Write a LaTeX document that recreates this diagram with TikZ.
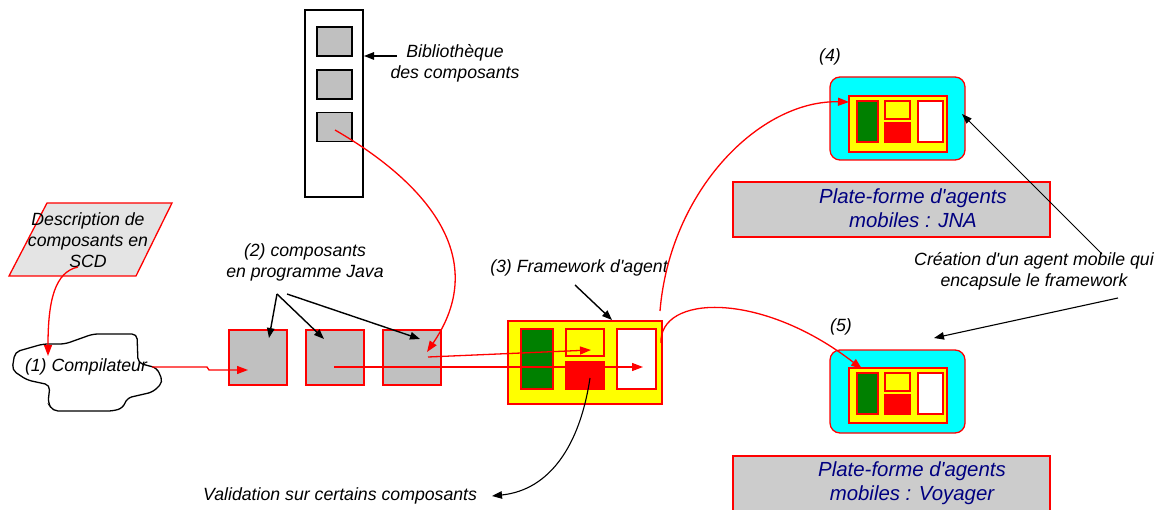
\documentclass[tikz,border=0pt]{standalone}
\usepackage{fontspec}
\setmainfont{Liberation Sans}[Ligatures=TeXOff]
\usetikzlibrary{arrows.meta}
\definecolor{navy}{RGB}{0,0,128}
\definecolor{grayA}{RGB}{192,192,192}
\definecolor{grayB}{RGB}{204,204,204}
\definecolor{grayC}{RGB}{228,228,228}
\definecolor{dgreen}{RGB}{0,128,0}
\definecolor{aqua}{RGB}{0,255,255}
\definecolor{pureyellow}{RGB}{255,255,0}
\definecolor{purered}{RGB}{255,0,0}
\tikzset{
  lbl/.style={font=\fontsize{17.7}{21}\selectfont\itshape, align=center, inner sep=0pt},
  pftext/.style={font=\fontsize{20.4}{23.5}\selectfont\itshape, text=navy, align=center, inner sep=0pt},
  rbox/.style={draw=purered, line width=1.3pt, inner sep=0pt},
  bbox/.style={draw=black, line width=1.4pt, inner sep=0pt},
  redarrow/.style={draw=purered, line width=1.3pt, -{Triangle[length=11pt,width=8pt]}, fill=none},
  blkarrow/.style={draw=black, line width=1.4pt, -{Triangle[length=10pt,width=7.5pt]}},
  thinarrow/.style={draw=black, line width=0.8pt, -{Triangle[length=10pt,width=7pt]}},
}
\begin{document}
\begin{tikzpicture}[x=1pt,y=-1pt]
\useasboundingbox (0,0) rectangle (1161,510);

% Library
\node[bbox, fill=white, minimum width=58pt, minimum height=187pt] (lib) at (334,103.5) {};
\node[bbox, fill=grayA, minimum width=35pt, minimum height=29pt] (lib1) at (334.5,41.5) {};
\node[bbox, fill=grayA, minimum width=35pt, minimum height=29pt] (lib2) at (334.5,84.5) {};
\node[bbox, fill=grayA, minimum width=35pt, minimum height=29pt] (lib3) at (334.5,127) {};
\node[lbl] (libtxt) at (455,63) {Bibliothèque\\des composants};
\coordinate (libtail) at (397,56);
\coordinate (libtip) at (364,56);
\draw[blkarrow] (libtail) -- (libtip);

% Description parallelogram
\coordinate (pa) at (47,203);
\coordinate (pb) at (172,203);
\coordinate (pc) at (136,276);
\coordinate (pd) at (9,276);
\draw[draw=purered, line width=1.3pt, fill=grayC] (pa) -- (pb) -- (pc) -- (pd) -- cycle;
\node[lbl] (desc) at (88,240) {Description de\\composants en\\SCD};

% Cloud
\draw[line width=1.3pt, rounded corners=5pt, fill=white]
 (15,352) -- (43,344) -- (65,344) -- (93,334) -- (137,334) -- (138,363) -- (157,368)
 -- (163,382) -- (153,392) -- (127,398) -- (123,408) -- (113,411) -- (53,411)
 -- (48,403) -- (50,385) -- (27,380) -- (12,370) -- cycle;
\node[lbl] (comp) at (86,367) {(1) Compilateur};

% description -> compiler
\coordinate (d1) at (78,267);
\coordinate (c1) at (48,356);
\draw[redarrow] (d1) .. controls (55,272) and (48,300) .. (c1);

% component boxes
\node[rbox, fill=grayA, minimum width=58pt, minimum height=55pt] (b1) at (258,357.5) {};
\node[rbox, fill=grayA, minimum width=58pt, minimum height=55pt] (b2) at (335,357.5) {};
\node[rbox, fill=grayA, minimum width=58pt, minimum height=55pt] (b3) at (412,357.5) {};
\node[lbl] (javatxt) at (305,262) {(2) composants\\en programme Java};
\coordinate (j1) at (277,294);
\coordinate (j2) at (287,294);
\coordinate (t1) at (269,338);
\coordinate (t2) at (324,339);
\coordinate (t3) at (420,339);
\draw[blkarrow] (j1) -- (t1);
\draw[blkarrow] (j1) -- (t2);
\draw[blkarrow] (j2) -- (t3);

% compiler -> box1
\coordinate (cc) at (152,367);
\coordinate (b1in) at (248,370);
\draw[redarrow] (cc) -- (207,367) -- (209,370) -- (b1in);

% library -> box3
\coordinate (l3c) at (335,130);
\coordinate (b3in) at (427,352);
\draw[redarrow] (l3c) .. controls (430,185) and (490,260) .. (b3in);

% Framework
\node[rbox, fill=pureyellow, minimum width=154pt, minimum height=83pt] (fw) at (585,362.5) {};
\node[rbox, fill=dgreen, minimum width=32pt, minimum height=60pt] (fwg) at (537,359) {};
\node[rbox, fill=pureyellow, minimum width=38pt, minimum height=27pt] (fwy) at (585,342.5) {};
\node[rbox, fill=purered, minimum width=38pt, minimum height=27pt] (fwr) at (585,375.5) {};
\node[rbox, fill=white, minimum width=39pt, minimum height=60pt] (fww) at (636.5,359) {};
\node[lbl] (fwtxt) at (579,268) {(3) Framework d'agent};
\coordinate (fa) at (575,285);
\coordinate (fb) at (612,320);
\draw[blkarrow] (fa) -- (fb);

% box -> framework
\coordinate (b2c) at (334,367);
\coordinate (fwwin) at (643,367);
\coordinate (b3c) at (428,357);
\coordinate (fwyin) at (591,350);
\draw[redarrow] (b3c) -- (fwyin);
\draw[redarrow] (b2c) -- (fwwin);

% validation
\node[lbl, anchor=west] (valtxt) at (203,496) {Validation sur certains composants};
\coordinate (vs) at (590,378);
\coordinate (ve) at (492,496);
\draw[blkarrow, line width=1.1pt] (vs) .. controls (580,445) and (550,490) .. (ve);

% JNA agent
\node[draw=purered, line width=1.3pt, fill=aqua, rounded corners=10pt, minimum width=135pt, minimum height=83pt, inner sep=0pt] (jna) at (897.5,118.5) {};
\node[rbox, fill=pureyellow, minimum width=98pt, minimum height=56pt] (jnay) at (898,124) {};
\node[rbox, fill=dgreen, minimum width=21pt, minimum height=41pt] (jnag) at (867.5,121.5) {};
\node[rbox, fill=pureyellow, minimum width=25pt, minimum height=18pt] (jnays) at (897.5,110) {};
\node[rbox, fill=purered, minimum width=25pt, minimum height=19pt] (jnar) at (897.5,132.5) {};
\node[rbox, fill=white, minimum width=25pt, minimum height=41pt] (jnaw) at (930.5,121.5) {};
\node[lbl] (n4) at (830,57) {(4)};

% Voyager agent
\node[draw=purered, line width=1.3pt, fill=aqua, rounded corners=10pt, minimum width=135pt, minimum height=83pt, inner sep=0pt] (voy) at (897.5,391.5) {};
\node[rbox, fill=pureyellow, minimum width=98pt, minimum height=55pt] (voyy) at (898,395.5) {};
\node[rbox, fill=dgreen, minimum width=21pt, minimum height=41pt] (voyg) at (867.5,393.5) {};
\node[rbox, fill=pureyellow, minimum width=25pt, minimum height=18pt] (voyys) at (897.5,382) {};
\node[rbox, fill=purered, minimum width=25pt, minimum height=19pt] (voyr) at (897.5,404.5) {};
\node[rbox, fill=white, minimum width=25pt, minimum height=41pt] (voyw) at (930.5,393.5) {};
\node[lbl] (n5) at (841,327) {(5)};

% framework -> agents
\coordinate (fj) at (660,311);
\coordinate (jin) at (849,102);
\draw[redarrow] (fj) .. controls (670,190) and (760,100) .. (jin);
\coordinate (fv) at (661,343);
\coordinate (vin) at (862,369);
\draw[redarrow] (fv) .. controls (659,295) and (760,290) .. (vin);

% platform boxes
\node[rbox, fill=grayB, minimum width=317pt, minimum height=55pt] (pfj) at (891.5,209.5) {};
\node[pftext] (pfjtxt) at (913,208) {Plate-forme d'agents\\mobiles : JNA};
\node[rbox, fill=grayB, minimum width=317pt, minimum height=80pt] (pfv) at (891.5,496) {};
\node[pftext] (pfvtxt) at (912,483) {Plate-forme d'agents\\mobiles : Voyager};

% creation
\node[lbl] (cretxt) at (1034,271) {Création d'un agent mobile qui\\encapsule le framework};
\coordinate (cr1) at (1102,254);
\coordinate (cr2) at (1118,298);
\coordinate (jt) at (962,114);
\coordinate (vt) at (934,338);
\draw[thinarrow] (cr1) -- (jt);
\draw[blkarrow, line width=1.1pt] (cr2) -- (vt);
\end{tikzpicture}
\end{document}
